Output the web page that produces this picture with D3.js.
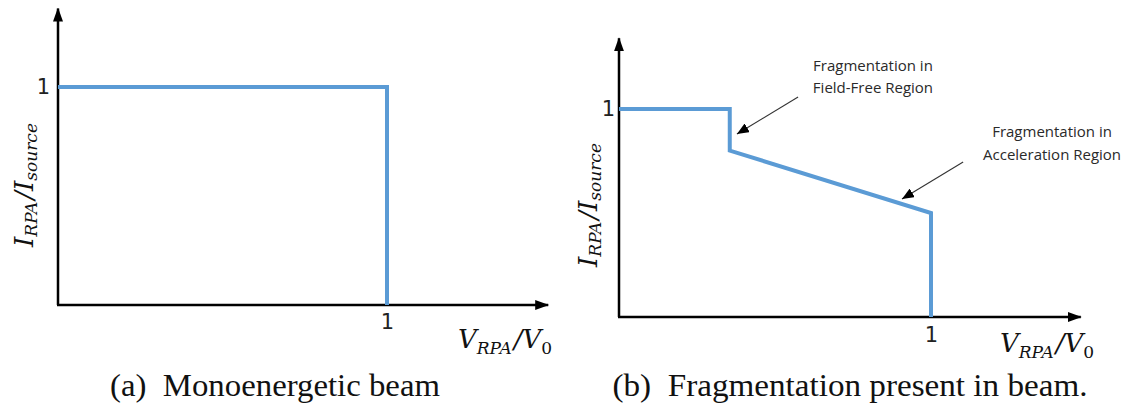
<!DOCTYPE html>
<html>
<head>
<meta charset="utf-8">
<script src="https://cdn.jsdelivr.net/npm/d3@7"></script>
<style>
  html, body { margin: 0; padding: 0; background: #fff; }
  svg { display: block; }
  .math { font-family: "DejaVu Serif", serif; font-style: italic; fill: #111; }
  .caption { font-family: "Liberation Serif", "DejaVu Serif", serif; font-size: 31px; fill: #111; white-space: pre; }
  .note { font-family: "Open Sans", sans-serif; font-size: 15px; fill: #2a2a2a; }
</style>
</head>
<body>
<script>
// Normalised RPA current vs. retarding voltage, two idealised beams
const monoVoltage = [0, 1, 1];
const monoCurrent = [1, 1, 0];

const fragVoltage = [0, 0.355, 0.355, 1, 1];
const fragCurrent = [1, 1, 0.8, 0.5, 0];

const tickValues = [1];
const captions = ["(a)  Monoenergetic beam", "(b)  Fragmentation present in beam."];

// annotation anchors, in panel (b) data units
const noteLines = [["Fragmentation in", "Field-Free Region"], ["Fragmentation in", "Acceleration Region"]];
const noteTextX = [0.814, 1.388];
const noteTextY = [[1.200, 1.094], [0.885, 0.772]];
const noteTailX = [0.574, 1.103];
const noteTailY = [1.058, 0.745];
const noteTipX = [0.378, 0.907];
const noteTipY = [0.880, 0.567];

const W = 1133, H = 414;
const svg = d3.select("body").append("svg").attr("width", W).attr("height", H);

const defs = svg.append("defs");
defs.append("marker")
  .attr("id", "axisHead").attr("viewBox", "0 0 14 10")
  .attr("refX", 13).attr("refY", 5)
  .attr("markerWidth", 14).attr("markerHeight", 10)
  .attr("markerUnits", "userSpaceOnUse").attr("orient", "auto")
  .append("path").attr("d", "M0,0 L14,5 L0,10 Z").attr("fill", "#000");
defs.append("marker")
  .attr("id", "noteHead").attr("viewBox", "0 0 12 10")
  .attr("refX", 12).attr("refY", 5)
  .attr("markerWidth", 12).attr("markerHeight", 10)
  .attr("markerUnits", "userSpaceOnUse").attr("orient", "auto")
  .append("path").attr("d", "M0,0 L12,5 L0,10 Z").attr("fill", "#000");

const panels = [
  { v: monoVoltage, c: monoCurrent, x0: 58, x1: 387, y0: 305, y1: 87,
    xMax: 1.49, yMax: 1.36, yTickPad: 8, xTickPad: 9,
    yLab: [26, 185], xLab: [505, 348], cap: [275, 396], capLen: 330 },
  { v: fragVoltage, c: fragCurrent, x0: 619, x1: 931, y0: 317, y1: 109,
    xMax: 1.48, yMax: 1.34, yTickPad: 4, xTickPad: 10,
    yLab: [590, 205], xLab: [1047, 352], cap: [850, 396], capLen: 475 }
];

panels.forEach((p, i) => {
  const x = d3.scaleLinear().domain([0, 1]).range([p.x0, p.x1]);
  const y = d3.scaleLinear().domain([0, 1]).range([p.y0, p.y1]);
  const g = svg.append("g");

  // axes with arrowheads
  g.append("line")
    .attr("x1", x(0)).attr("y1", y(0)).attr("x2", x(0)).attr("y2", y(p.yMax))
    .attr("stroke", "#000").attr("stroke-width", 2.5).attr("marker-end", "url(#axisHead)");
  g.append("line")
    .attr("x1", x(0) - 1).attr("y1", y(0)).attr("x2", x(p.xMax)).attr("y2", y(0))
    .attr("stroke", "#000").attr("stroke-width", 2.5).attr("marker-end", "url(#axisHead)");

  // tick labels
  const ay = g.append("g").attr("transform", `translate(${x(0)},0)`)
    .call(d3.axisLeft(y).tickValues(tickValues).tickSize(0).tickPadding(p.yTickPad).tickFormat(d3.format("d")));
  const ax = g.append("g").attr("transform", `translate(0,${y(0)})`)
    .call(d3.axisBottom(x).tickValues(tickValues).tickSize(0).tickPadding(p.xTickPad).tickFormat(d3.format("d")));
  [ay, ax].forEach(a => {
    a.select(".domain").remove();
    a.attr("font-size", 21).attr("font-family", "'DejaVu Sans', sans-serif");
    a.selectAll(".tick text").attr("fill", "#222");
  });

  // current curve
  const line = d3.line().x(d => x(d[0])).y(d => y(d[1]));
  g.append("path")
    .datum(p.v.map((v, k) => [v, p.c[k]]))
    .attr("d", line)
    .attr("fill", "none").attr("stroke", "#5b9bd5")
    .attr("stroke-width", 4).attr("stroke-linejoin", "miter");

  // y-axis label  I_RPA / I_source
  const yl = g.append("text").attr("class", "math")
    .attr("transform", `translate(${p.yLab[0]},${p.yLab[1]}) rotate(-90)`)
    .attr("text-anchor", "middle").attr("dominant-baseline", "middle");
  yl.append("tspan").attr("font-size", 26).text("I");
  yl.append("tspan").attr("font-size", 17).attr("dy", 6).text("RPA");
  yl.append("tspan").attr("font-size", 26).attr("dy", -6).attr("dx", 2).text("/I");
  yl.append("tspan").attr("font-size", 17).attr("dy", 6).text("source");

  // x-axis label  V_RPA / V_0
  const xl = g.append("text").attr("class", "math")
    .attr("x", p.xLab[0]).attr("y", p.xLab[1]).attr("text-anchor", "middle");
  xl.append("tspan").attr("font-size", 26).text("V");
  xl.append("tspan").attr("font-size", 17).attr("dy", 6).text("RPA");
  xl.append("tspan").attr("font-size", 26).attr("dy", -6).attr("dx", 2).text("/V");
  xl.append("tspan").attr("font-size", 17).attr("dy", 6).attr("font-style", "normal").text("0");

  // caption
  g.append("text").attr("class", "caption")
    .attr("x", p.cap[0]).attr("y", p.cap[1]).attr("text-anchor", "middle")
    .attr("textLength", p.capLen).attr("lengthAdjust", "spacingAndGlyphs")
    .text(captions[i]);

  // annotations for the fragmentation panel
  if (i === 1) {
    noteLines.forEach((lines, k) => {
      g.append("line")
        .attr("x1", x(noteTailX[k])).attr("y1", y(noteTailY[k]))
        .attr("x2", x(noteTipX[k])).attr("y2", y(noteTipY[k]))
        .attr("stroke", "#333").attr("stroke-width", 1.1)
        .attr("marker-end", "url(#noteHead)");
      lines.forEach((t, j) => {
        g.append("text").attr("class", "note")
          .attr("x", x(noteTextX[k])).attr("y", y(noteTextY[k][j]))
          .attr("text-anchor", "middle").attr("dominant-baseline", "middle")
          .text(t);
      });
    });
  }
});
</script>
</body>
</html>
